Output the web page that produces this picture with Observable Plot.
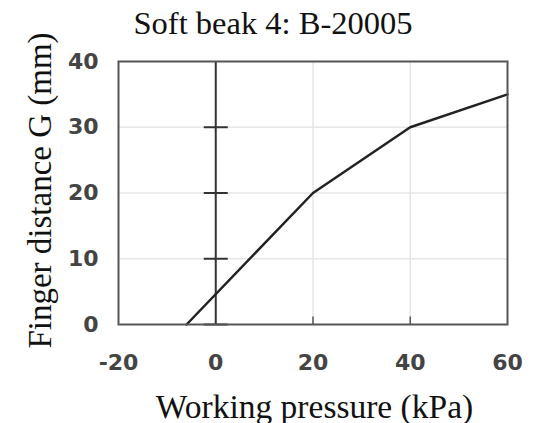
<!DOCTYPE html>
<html>
<head>
<meta charset="utf-8">
<script src="https://cdn.jsdelivr.net/npm/d3@7"></script>
<script src="https://cdn.jsdelivr.net/npm/@observablehq/plot@0.6"></script>
<style>
  html, body { margin: 0; padding: 0; background: #fff; }
</style>
</head>
<body>
<div id="chart"></div>
<script>
const titleText = "Soft beak 4: B-20005";
const xLabel = "Working pressure (kPa)";
const yLabel = "Finger distance G (mm)";
const xTicks = [-20, 0, 20, 40, 60];
const yTicks = [0, 10, 20, 30, 40];
const xGrid = [20, 40];
const yGrid = [10, 20, 30];
const zeroAxisTicks = [0, 10, 20, 30];
const bottomTicks = [20, 40];
const pressure = [-6, 20, 40, 60];
const distance = [0, 20, 30, 35];

const data = pressure.map((p, i) => ({p, g: distance[i]}));

const hLine = {draw(ctx, size) { const h = Math.sqrt(size / Math.PI); ctx.moveTo(-h, 0); ctx.lineTo(h, 0); }};
const vLine = {draw(ctx, size) { const h = Math.sqrt(size / Math.PI); ctx.moveTo(0, -2 * h); ctx.lineTo(0, 0); }};

const tickFont = {fontSize: 22, fontWeight: "bold", fontFamily: "DejaVu Sans, sans-serif", tickFormat: d => String(d)};
const serif = "Liberation Serif, Times New Roman, serif";

const chart = Plot.plot({
  width: 543,
  height: 423,
  marginLeft: 118,
  marginRight: 36,
  marginTop: 61,
  marginBottom: 99,
  style: {background: "#fff"},
  x: {domain: [-20, 60]},
  y: {domain: [0, 40]},
  marks: [
    Plot.ruleX(xGrid, {stroke: "#e6e6e6", strokeWidth: 1.5}),
    Plot.ruleY(yGrid, {stroke: "#e6e6e6", strokeWidth: 1.5}),
    Plot.axisX(xTicks, {tickSize: 0, tickPadding: 30, color: "#444", label: null, ...tickFont}),
    Plot.axisY(yTicks, {tickSize: 0, tickPadding: 20, color: "#444", label: null, ...tickFont}),
    Plot.ruleX([0], {stroke: "#333", strokeWidth: 2}),
    Plot.dot(zeroAxisTicks, {x: 0, y: d => d, symbol: hLine, r: 12, stroke: "#333", strokeWidth: 2, fill: "none"}),
    Plot.dot(bottomTicks, {x: d => d, y: 0, symbol: vLine, r: 4, stroke: "#555", strokeWidth: 1.5, fill: "none"}),
    Plot.line(data, {x: "p", y: "g", stroke: "#222", strokeWidth: 2.5}),
    Plot.frame({stroke: "#555", strokeWidth: 2}),
    Plot.text([titleText], {frameAnchor: "top", textAnchor: "middle", dx: -40, dy: -28, lineAnchor: "bottom", fontFamily: serif, fontSize: 32.5, fill: "#111"}),
    Plot.text([xLabel], {frameAnchor: "bottom", textAnchor: "middle", dx: 1.5, dy: 93, lineAnchor: "bottom", fontFamily: serif, fontSize: 33.5, fill: "#111"}),
    Plot.text([yLabel], {frameAnchor: "left", textAnchor: "middle", dx: -68, dy: -2.5, rotate: -90, lineAnchor: "bottom", fontFamily: serif, fontSize: 33, fill: "#111"})
  ]
});
document.getElementById("chart").appendChild(chart);
</script>
</body>
</html>
